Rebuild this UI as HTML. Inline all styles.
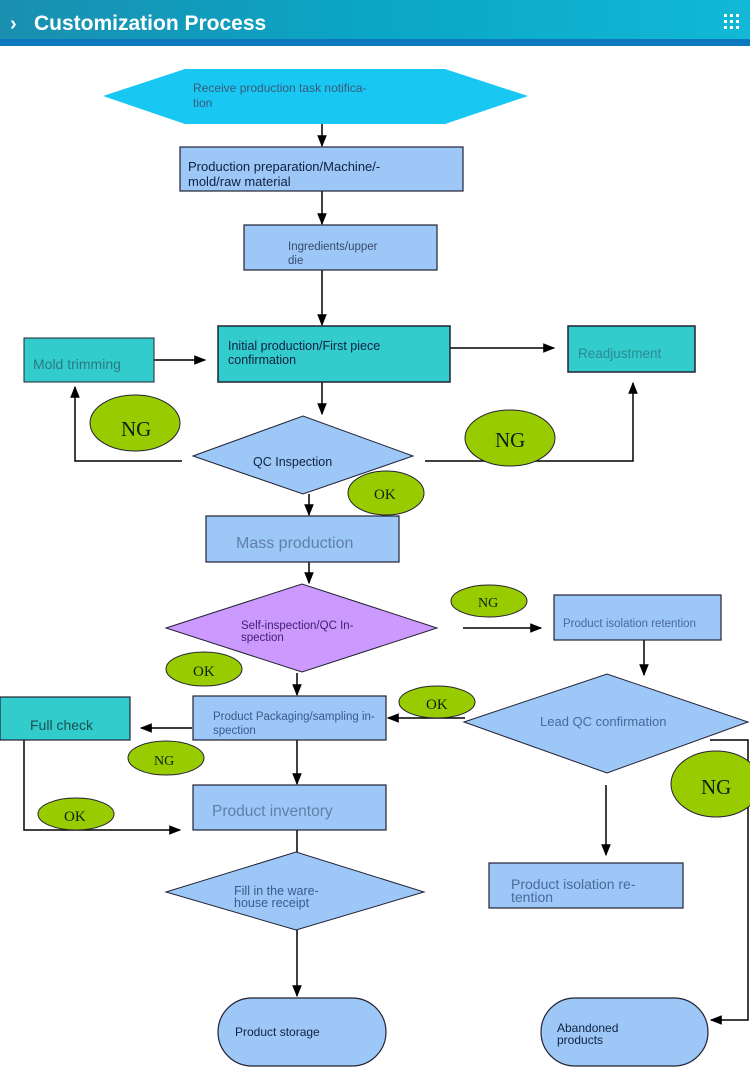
<!DOCTYPE html>
<html><head><meta charset="utf-8"><style>
html,body{margin:0;padding:0;background:#fff;width:750px;height:1085px;overflow:hidden}
svg{display:block}
text{font-family:"Liberation Sans",sans-serif}
text.s{font-family:"Liberation Serif",serif}
</style></head><body>
<svg width="750" height="1085" viewBox="0 0 750 1085" xmlns="http://www.w3.org/2000/svg">
<defs>
<linearGradient id="hg" x1="0" x2="1" y1="0" y2="0">
<stop offset="0" stop-color="#1a8fb0"/><stop offset="0.5" stop-color="#0aa6c6"/><stop offset="1" stop-color="#12b8d6"/>
</linearGradient>
<marker id="a" viewBox="0 0 10 10" refX="9" refY="5" markerWidth="8" markerHeight="8" orient="auto"><path d="M0,1 L10,5 L0,9z" fill="#000"/></marker>
</defs>
<rect x="0" y="0" width="750" height="39" fill="url(#hg)"/>
<rect x="0" y="39" width="750" height="7" fill="#0b78c0"/>
<text x="10" y="30" font-size="20" font-weight="bold" fill="#fff">›</text>
<text x="34" y="30" font-size="21" font-weight="bold" fill="#fff">Customization Process</text>
<g fill="#fff"><rect x="724" y="14" width="3" height="3"/><rect x="730" y="14" width="3" height="3"/><rect x="736" y="14" width="3" height="3"/><rect x="724" y="20" width="3" height="3"/><rect x="730" y="20" width="3" height="3"/><rect x="736" y="20" width="3" height="3"/><rect x="724" y="26" width="3" height="3"/><rect x="730" y="26" width="3" height="3"/><rect x="736" y="26" width="3" height="3"/></g>

<g stroke="#000" stroke-width="1.5" fill="none" marker-end="url(#a)">
<line x1="322" y1="124" x2="322" y2="146"/>
<line x1="322" y1="191" x2="322" y2="224"/>
<line x1="322" y1="270" x2="322" y2="325"/>
<line x1="154" y1="360" x2="205" y2="360"/>
<line x1="450" y1="348" x2="554" y2="348"/>
<line x1="322" y1="382" x2="322" y2="414"/>
<polyline points="182,461 75,461 75,387"/>
<polyline points="425,461 633,461 633,383"/>
<line x1="309" y1="494" x2="309" y2="515"/>
<line x1="309" y1="562" x2="309" y2="583"/>
<line x1="463" y1="628" x2="541" y2="628"/>
<line x1="644" y1="640" x2="644" y2="675"/>
<line x1="297" y1="673" x2="297" y2="695"/>
<line x1="465" y1="718" x2="388" y2="718"/>
<line x1="192" y1="728" x2="141" y2="728"/>
<polyline points="24,740 24,830 180,830"/>
<line x1="297" y1="740" x2="297" y2="784"/>
<line x1="297" y1="930" x2="297" y2="996"/>
<line x1="606" y1="785" x2="606" y2="855"/>
<polyline points="710,740 748,740 748,1020 711,1020"/>
</g>
<line x1="297" y1="830" x2="297" y2="852" stroke="#000" stroke-width="1.5"/>

<polygon points="103,96 185,69 445,69 528,96 445,124 185,124" fill="#18c8f2"/>
<text x="193" y="92" font-size="12" fill="#3a5a7a">Receive production task notifica-</text>
<text x="193" y="107" font-size="12" fill="#3a5a7a">tion</text>

<rect x="180" y="147" width="283" height="44" fill="#9cc7f7" stroke="#223" stroke-width="1.2"/>
<text x="188" y="171" font-size="13" fill="#102040">Production preparation/Machine/-</text>
<text x="188" y="186" font-size="13" fill="#102040">mold/raw material</text>

<rect x="244" y="225" width="193" height="45" fill="#9cc7f7" stroke="#223" stroke-width="1.2"/>
<text x="288" y="250" font-size="11.5" fill="#3a4a6a">Ingredients/upper</text>
<text x="288" y="264" font-size="11.5" fill="#3a4a6a">die</text>

<rect x="218" y="326" width="232" height="56" fill="#33cccc" stroke="#223" stroke-width="1.5"/>
<text x="228" y="350" font-size="12.5" fill="#102040">Initial production/First piece</text>
<text x="228" y="364" font-size="12.5" fill="#102040">confirmation</text>

<rect x="24" y="338" width="130" height="44" fill="#33cccc" stroke="#223" stroke-width="1"/>
<text x="33" y="369" font-size="14" fill="#2a7a80">Mold trimming</text>

<rect x="568" y="326" width="127" height="46" fill="#33cccc" stroke="#223" stroke-width="1.5"/>
<text x="578" y="358" font-size="13.5" fill="#2a8a90">Readjustment</text>

<polygon points="193,456 303,416 413,456 303,494" fill="#9cc7f7" stroke="#223" stroke-width="1"/>
<text x="253" y="466" font-size="12.5" fill="#102040">QC Inspection</text>

<ellipse cx="135" cy="423" rx="45" ry="28" fill="#99cc00" stroke="#223"/>
<text class="s" x="121" y="436" font-size="21" fill="#102010">NG</text>
<ellipse cx="510" cy="438" rx="45" ry="28" fill="#99cc00" stroke="#223"/>
<text class="s" x="495" y="447" font-size="21" fill="#102010">NG</text>
<ellipse cx="386" cy="493" rx="38" ry="22" fill="#99cc00" stroke="#223"/>
<text class="s" x="374" y="499" font-size="15" fill="#102010">OK</text>

<rect x="206" y="516" width="193" height="46" fill="#9cc7f7" stroke="#223" stroke-width="1.2"/>
<text x="236" y="548" font-size="16" fill="#6080a8">Mass production</text>

<polygon points="166,628 302,584 437,628 302,672" fill="#cc99ff" stroke="#223" stroke-width="1"/>
<text x="241" y="629" font-size="11.5" fill="#402070">Self-inspection/QC In-</text>
<text x="241" y="641" font-size="11.5" fill="#402070">spection</text>

<ellipse cx="489" cy="601" rx="38" ry="16" fill="#99cc00" stroke="#223"/>
<text class="s" x="478" y="607" font-size="14" fill="#102010">NG</text>

<rect x="554" y="595" width="167" height="45" fill="#9cc7f7" stroke="#223" stroke-width="1.2"/>
<text x="563" y="627" font-size="11.5" fill="#4a6a9a">Product isolation retention</text>

<polygon points="464,722 607,674 748,722 607,773" fill="#9cc7f7" stroke="#223" stroke-width="1"/>
<text x="540" y="726" font-size="13" fill="#4a6a9a">Lead QC confirmation</text>

<ellipse cx="204" cy="669" rx="38" ry="17" fill="#99cc00" stroke="#223"/>
<text class="s" x="193" y="676" font-size="15" fill="#102010">OK</text>

<rect x="193" y="696" width="193" height="44" fill="#9cc7f7" stroke="#223" stroke-width="1.2"/>
<text x="213" y="720" font-size="11.5" fill="#3a5a8a">Product Packaging/sampling in-</text>
<text x="213" y="734" font-size="11.5" fill="#3a5a8a">spection</text>

<ellipse cx="437" cy="702" rx="38" ry="16" fill="#99cc00" stroke="#223"/>
<text class="s" x="426" y="709" font-size="15" fill="#102010">OK</text>

<rect x="0" y="697" width="130" height="43" fill="#33cccc" stroke="#223" stroke-width="1.2"/>
<text x="30" y="730" font-size="14" fill="#1a5050">Full check</text>

<ellipse cx="166" cy="758" rx="38" ry="17" fill="#99cc00" stroke="#223"/>
<text class="s" x="154" y="765" font-size="14" fill="#102010">NG</text>

<ellipse cx="76" cy="814" rx="38" ry="16" fill="#99cc00" stroke="#223"/>
<text class="s" x="64" y="821" font-size="15" fill="#102010">OK</text>

<ellipse cx="716" cy="784" rx="45" ry="33" fill="#99cc00" stroke="#223"/>
<text class="s" x="701" y="794" font-size="21" fill="#102010">NG</text>

<rect x="193" y="785" width="193" height="45" fill="#9cc7f7" stroke="#223" stroke-width="1.2"/>
<text x="212" y="816" font-size="15.5" fill="#6080a8">Product inventory</text>

<polygon points="166,892 296,852 424,892 296,930" fill="#9cc7f7" stroke="#223" stroke-width="1"/>
<text x="234" y="895" font-size="12.5" fill="#3a5a8a">Fill in the ware-</text>
<text x="234" y="907" font-size="12.5" fill="#3a5a8a">house receipt</text>

<rect x="489" y="863" width="194" height="45" fill="#9cc7f7" stroke="#223" stroke-width="1.2"/>
<text x="511" y="889" font-size="14" fill="#4a6a9a">Product isolation re-</text>
<text x="511" y="902" font-size="14" fill="#4a6a9a">tention</text>

<rect x="218" y="998" width="168" height="68" rx="34" fill="#9cc7f7" stroke="#223" stroke-width="1.2"/>
<text x="235" y="1036" font-size="12" fill="#102040">Product storage</text>

<rect x="541" y="998" width="167" height="68" rx="34" fill="#9cc7f7" stroke="#223" stroke-width="1.2"/>
<text x="557" y="1032" font-size="12" fill="#102040">Abandoned</text>
<text x="557" y="1044" font-size="12" fill="#102040">products</text>
</svg>
</body></html>
